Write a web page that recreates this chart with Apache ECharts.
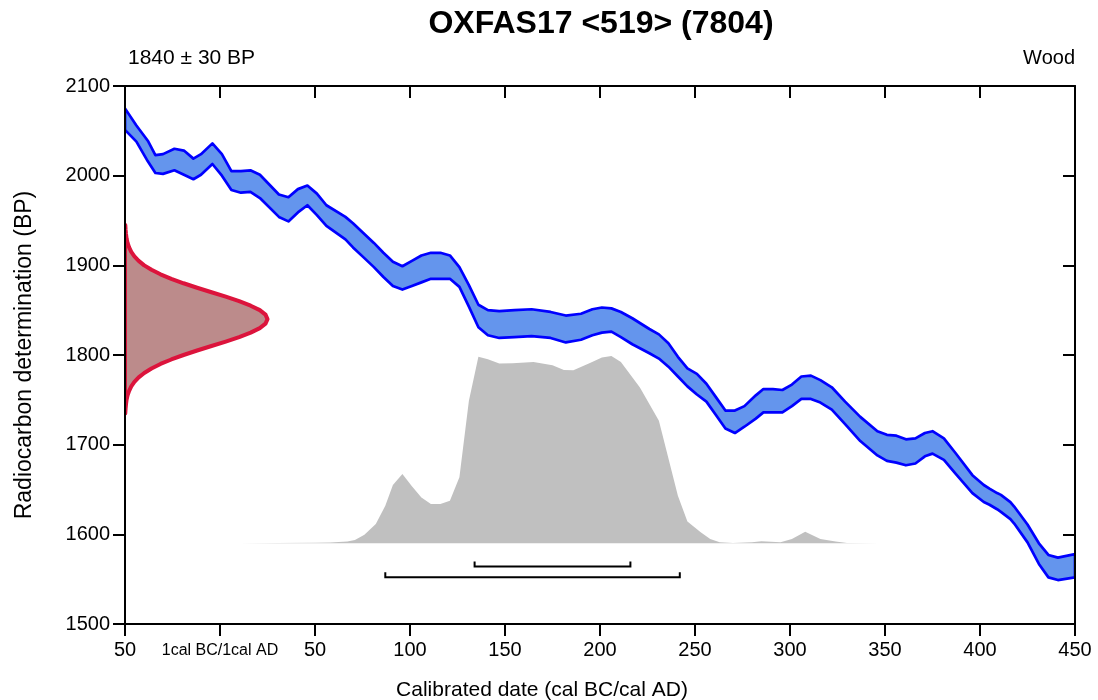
<!DOCTYPE html>
<html>
<head>
<meta charset="utf-8">
<script src="https://cdn.jsdelivr.net/npm/echarts/dist/echarts.min.js"></script>
<style>html,body{margin:0;padding:0;background:#fff}#chart{width:1098px;height:700px}</style>
</head>
<body>
<div id="chart"></div>
<script>
// ---------------- data ----------------
const chartTitle = 'OXFAS17 <519> (7804)';
const dateLabel = '1840 ± 30 BP';
const materialLabel = 'Wood';
const xAxisTitle = 'Calibrated date (cal BC/cal AD)';
const yAxisTitle = 'Radiocarbon determination (BP)';

const xTickValues = [-50, 0, 50, 100, 150, 200, 250, 300, 350, 400, 450];
const xTickLabels = ['50', '1cal BC/1cal AD', '50', '100', '150', '200', '250', '300', '350', '400', '450'];
const yTickValues = [1500, 1600, 1700, 1800, 1900, 2000, 2100];
const yTickLabels = ['1500', '1600', '1700', '1800', '1900', '2000', '2100'];

// calibration curve band (upper / lower edge, BP) at calendar years
const calYears = [-50,-44,-38,-34,-30,-24,-19,-14,-10,-4,1,6,11,16,21,31,36,41,46,51,56,66,70,75,81,86,91,96,101,106,111,116,121,126,131,136,141,147,155,164,174,182,190,196,201,206,211,217,226,231,236,241,246,251,256,261,266,271,276,282,286,291,296,301,306,311,316,322,329,337,346,351,356,361,366,371,375,381,387,396,402,405,409,411,416,418,425,431,436,441,450];
const calUpper = [2075,2056,2039,2023,2024,2030,2028,2019,2024,2036,2024,2005,2005,2006,2001,1979,1976,1985,1989,1980,1967,1954,1947,1937,1925,1914,1904,1899,1905,1911,1914,1914,1911,1898,1878,1856,1850,1849,1850,1851,1848,1844,1846,1851,1853,1852,1848,1841,1829,1823,1813,1798,1785,1779,1768,1753,1738,1738,1743,1755,1762,1762,1761,1767,1776,1777,1772,1764,1748,1731,1715,1711,1710,1706,1707,1713,1715,1707,1691,1666,1655,1651,1646,1644,1636,1631,1611,1590,1577,1574,1578];
const calLower = [2051,2038,2016,2003,2002,2006,2001,1996,2001,2013,2000,1984,1981,1982,1975,1954,1949,1959,1967,1956,1944,1929,1920,1910,1898,1887,1877,1873,1877,1881,1885,1885,1885,1876,1854,1831,1822,1819,1820,1821,1819,1814,1817,1822,1825,1826,1820,1812,1802,1796,1787,1776,1765,1756,1748,1733,1718,1713,1720,1729,1736,1736,1736,1743,1751,1751,1747,1739,1723,1704,1688,1682,1680,1677,1679,1687,1690,1683,1668,1646,1636,1633,1628,1625,1617,1612,1591,1567,1552,1549,1552];

// calibrated probability distribution (relative)
const probYears = [10,30,50,58,67,71,76,82,87,91,96,101,106,111,116,121,126,131,136,141,147,154,165,175,181,186,195,201,206,211,221,231,235,241,246,253,258,263,270,280,285,290,295,301,308,316,324,330,347];
const probRel =   [0,0.001,0.003,0.004,0.009,0.018,0.045,0.103,0.201,0.311,0.370,0.304,0.245,0.210,0.210,0.227,0.352,0.760,0.996,0.982,0.959,0.961,0.968,0.950,0.925,0.924,0.964,0.991,1.0,0.968,0.831,0.654,0.494,0.254,0.116,0.059,0.023,0.005,0.002,0.005,0.011,0.008,0.005,0.023,0.062,0.023,0.009,0.002,0];

// radiocarbon measurement distribution (relative) at BP values
const measBP =  [1735,1740,1745,1750,1755,1760,1765,1770,1775,1780,1785,1790,1795,1800,1805,1810,1815,1820,1825,1830,1835,1840,1845,1850,1855,1860,1865,1870,1875,1880,1885,1890,1895,1900,1905,1910,1915,1920,1925,1930,1935,1940,1945];
const measRel = [0.002,0.004,0.007,0.011,0.018,0.029,0.044,0.066,0.096,0.135,0.186,0.249,0.325,0.411,0.506,0.607,0.707,0.801,0.882,0.946,0.986,1,0.986,0.946,0.882,0.801,0.707,0.607,0.506,0.411,0.325,0.249,0.186,0.135,0.096,0.066,0.044,0.029,0.018,0.011,0.007,0.004,0.002];

// highest posterior density ranges (cal AD)
const range68 = [[134, 216]];
const range95 = [[87, 242]];

// ---------------- drawing constants ----------------
const X_MIN = -50, X_MAX = 450, Y_MIN = 1500, Y_MAX = 2100;
const PROB_BASE = 1590, PROB_HEIGHT = 209;   // BP units
const MEAS_WIDTH = 75;                        // years
const R68_LEVEL = 1564, R95_LEVEL = 1552;     // BP
const FONT = "'Liberation Sans', Arial, Helvetica, sans-serif";

const chart = echarts.init(document.getElementById('chart'), null, {renderer: 'canvas'});

function fixedSeries(z, builder) {
  return {
    type: 'custom', xAxisIndex: 0, yAxisIndex: 0, clip: true, z: z, silent: true,
    data: [[0, 1800]],
    renderItem: (params, api) => builder(api)
  };
}

const axisLineStyle = {color: '#000', width: 2};

const option = {
  animation: false,
  backgroundColor: '#fff',
  grid: {left: 125, right: 23, top: 86, bottom: 76, containLabel: false},
  xAxis: [{
    type: 'value', position: 'bottom', min: X_MIN, max: X_MAX, interval: 50, z: 10,
    axisLine: {show: true, onZero: false, lineStyle: axisLineStyle},
    axisTick: {show: true, inside: false, length: 12, lineStyle: axisLineStyle},
    splitLine: {show: false},
    axisLabel: {
      show: true, margin: 16, color: '#000', fontSize: 20, fontFamily: FONT,
      formatter: v => {
        const i = xTickValues.indexOf(v);
        if (i < 0) return '';
        return v === 0 ? '{s|' + xTickLabels[i] + '}' : xTickLabels[i];
      },
      rich: {s: {fontSize: 16, color: '#000', fontFamily: FONT, padding: [3, 0, 0, 0]}}
    }
  }, {
    type: 'value', position: 'top', min: X_MIN, max: X_MAX, interval: 50, z: 10,
    axisLine: {show: true, onZero: false, lineStyle: axisLineStyle},
    axisTick: {show: true, inside: true, length: 12, lineStyle: axisLineStyle},
    splitLine: {show: false}, axisLabel: {show: false}
  }],
  yAxis: [{
    type: 'value', position: 'left', min: Y_MIN, max: Y_MAX, interval: 100, z: 10,
    axisLine: {show: true, onZero: false, lineStyle: axisLineStyle},
    axisTick: {show: true, inside: false, length: 12, lineStyle: axisLineStyle},
    splitLine: {show: false},
    axisLabel: {
      show: true, margin: 15, color: '#000', fontSize: 20, fontFamily: FONT,
      formatter: v => {
        const i = yTickValues.indexOf(v);
        return i < 0 ? '' : yTickLabels[i];
      }
    }
  }, {
    type: 'value', position: 'right', min: Y_MIN, max: Y_MAX, interval: 100, z: 10,
    axisLine: {show: true, onZero: false, lineStyle: axisLineStyle},
    axisTick: {show: true, inside: true, length: 12, lineStyle: axisLineStyle},
    splitLine: {show: false}, axisLabel: {show: false}
  }],
  graphic: [
    {type: 'text', x: 601, y: 24, z: 20, style: {text: chartTitle, font: 'bold 32px ' + FONT, fill: '#000', textAlign: 'center', textVerticalAlign: 'middle'}},
    {type: 'text', x: 128, y: 58, z: 20, style: {text: dateLabel, font: '21px ' + FONT, fill: '#000', textAlign: 'left', textVerticalAlign: 'middle'}},
    {type: 'text', x: 1075, y: 58, z: 20, style: {text: materialLabel, font: '20px ' + FONT, fill: '#000', textAlign: 'right', textVerticalAlign: 'middle'}},
    {type: 'text', x: 542, y: 690, z: 20, style: {text: xAxisTitle, font: '21px ' + FONT, fill: '#000', textAlign: 'center', textVerticalAlign: 'middle'}},
    {type: 'text', x: 25, y: 355, rotation: Math.PI / 2, z: 20, style: {text: yAxisTitle, font: '23px ' + FONT, fill: '#000', textAlign: 'center', textVerticalAlign: 'middle'}}
  ],
  series: [
    // calibrated probability (grey)
    fixedSeries(1, api => {
      const pts = [api.coord([probYears[0], PROB_BASE])];
      probYears.forEach((yr, i) => pts.push(api.coord([yr, PROB_BASE + probRel[i] * PROB_HEIGHT])));
      pts.push(api.coord([probYears[probYears.length - 1], PROB_BASE]));
      return {type: 'polygon', shape: {points: pts}, style: {fill: '#c0c0c0'}};
    }),
    // calibration curve band (blue)
    fixedSeries(2, api => {
      const pts = [];
      calYears.forEach((yr, i) => pts.push(api.coord([yr, calUpper[i]])));
      for (let i = calYears.length - 1; i >= 0; i--) pts.push(api.coord([calYears[i], calLower[i]]));
      return {type: 'polygon', shape: {points: pts}, style: {fill: '#6495ed', stroke: '#0000ff', lineWidth: 2.7, lineJoin: 'round'}};
    }),
    // radiocarbon measurement (red)
    fixedSeries(3, api => {
      const pts = [api.coord([X_MIN, measBP[0]])];
      measBP.forEach((bp, i) => pts.push(api.coord([X_MIN + measRel[i] * MEAS_WIDTH, bp])));
      pts.push(api.coord([X_MIN, measBP[measBP.length - 1]]));
      return {type: 'polygon', shape: {points: pts}, style: {fill: '#bc8b8b', stroke: '#dc143c', lineWidth: 4, lineJoin: 'round'}};
    }),
    // range brackets
    fixedSeries(4, api => {
      const children = [];
      const add = (ranges, level) => ranges.forEach(r => {
        const a = api.coord([r[0], level]);
        const b = api.coord([r[1], level]);
        children.push({type: 'polyline', shape: {points: [[a[0], a[1] - 5], a, b, [b[0], b[1] - 5]]},
          style: {stroke: '#000', lineWidth: 2, fill: null}});
      });
      add(range68, R68_LEVEL);
      add(range95, R95_LEVEL);
      return {type: 'group', children};
    })
  ]
};
chart.setOption(option);
</script>
</body>
</html>
